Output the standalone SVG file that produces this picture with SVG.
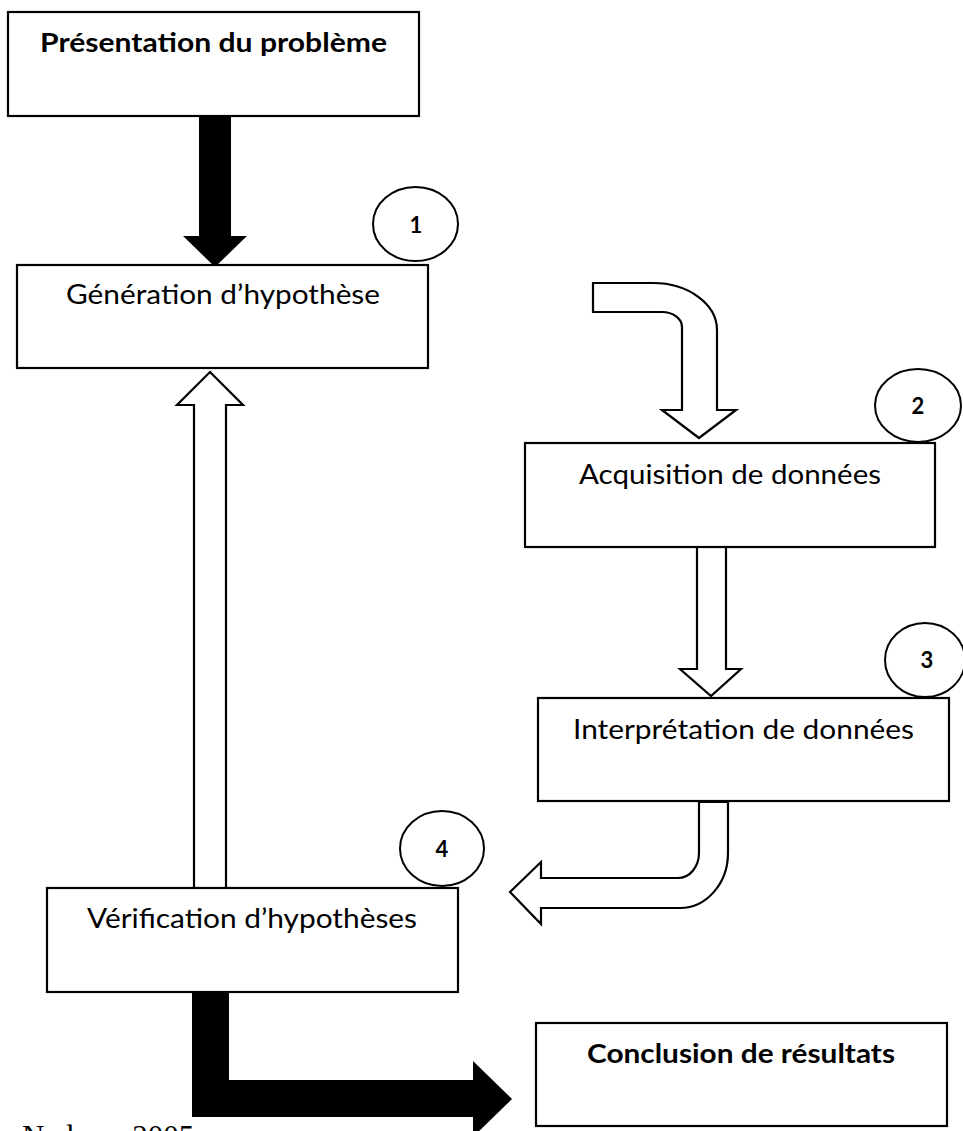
<svg xmlns="http://www.w3.org/2000/svg" width="963" height="1131" viewBox="0 0 963 1131">
  <style>
    .box { fill: #ffffff; stroke: #000000; stroke-width: 2.2; }
    .tag { fill: #ffffff; stroke: #000000; stroke-width: 2; }
    .lbl { font-family: Lato, "Liberation Sans", sans-serif; font-size: 26px; fill: #000000; text-anchor: middle; }
    .bold { font-weight: bold; }
    .num { font-family: Lato, "Liberation Sans", sans-serif; font-size: 22px; font-weight: bold; fill: #000000; text-anchor: middle; }
    .hollow { fill: #ffffff; stroke: #000000; stroke-width: 2.2; stroke-linejoin: miter; }
    .solid { fill: #000000; stroke: none; }
    .cite { font-family: "Liberation Serif", serif; font-size: 31px; fill: #000000; }
  </style>

  <!-- connectors -->
  <g id="connectors">
    <!-- problem statement down to hypothesis generation -->
    <polygon class="solid" points="199,116 231,116 231,236 247,236 215,267 183,236 199,236"/>
    <!-- bent arrow into data acquisition -->
    <path class="hollow" d="M593,283 H653 A64,47 0 0 1 717,330 V410 H736 L699,438 L662,410 H682 V327 A20,15 0 0 0 662,312 H593 Z"/>
    <!-- acquisition to interpretation -->
    <polygon class="hollow" points="697,547 697,669 680,669 711,696 741,669 726,669 726,547"/>
    <!-- interpretation back towards verification -->
    <path class="hollow" d="M699,802 V853 A21,25 0 0 1 678,878 H541 V862 L510,892 L541,924 V908 H680 A48,55 0 0 0 728,853 V802 Z"/>
    <!-- verification back up to hypothesis generation -->
    <polygon class="hollow" points="210,372 243,405 226,405 226,889 194,889 194,405 177,405"/>
    <!-- verification on to conclusion -->
    <path class="solid" d="M192,991 H229 V1080 H473 V1061 L512,1099 L473,1137 V1117 H192 Z"/>
  </g>

  <g id="node-presentation">
    <rect class="box" x="8" y="12" width="411" height="104"/>
    <text class="lbl bold" x="213.5" y="52" textLength="347" lengthAdjust="spacingAndGlyphs">Présentation du problème</text>
  </g>

  <g id="node-generation">
    <rect class="box" x="17" y="265" width="411" height="103"/>
    <text class="lbl" x="223" y="304" textLength="314" lengthAdjust="spacingAndGlyphs">Génération d’hypothèse</text>
  </g>

  <g id="step-1">
    <ellipse class="tag" cx="415.5" cy="224" rx="42.5" ry="37"/>
    <text class="num" x="416" y="233">1</text>
  </g>

  <g id="node-acquisition">
    <rect class="box" x="525" y="443" width="410" height="104"/>
    <text class="lbl" x="730" y="484" textLength="302" lengthAdjust="spacingAndGlyphs">Acquisition de données</text>
  </g>

  <g id="step-2">
    <ellipse class="tag" cx="918" cy="405.5" rx="43" ry="36.5"/>
    <text class="num" x="918" y="414">2</text>
  </g>

  <g id="node-interpretation">
    <rect class="box" x="538" y="698" width="411" height="103"/>
    <text class="lbl" x="743.5" y="739" textLength="341" lengthAdjust="spacingAndGlyphs">Interprétation de données</text>
  </g>

  <g id="step-3">
    <ellipse class="tag" cx="925" cy="660" rx="40" ry="37"/>
    <text class="num" x="927" y="668">3</text>
  </g>

  <g id="node-verification">
    <rect class="box" x="47" y="888" width="411" height="104"/>
    <text class="lbl" x="252" y="928" textLength="330" lengthAdjust="spacingAndGlyphs">Vérification d’hypothèses</text>
  </g>

  <g id="step-4">
    <ellipse class="tag" cx="442" cy="848.5" rx="42" ry="37.5"/>
    <text class="num" x="442" y="857">4</text>
  </g>

  <g id="node-conclusion">
    <rect class="box" x="536" y="1023" width="411" height="103"/>
    <text class="lbl bold" x="741" y="1063" textLength="308" lengthAdjust="spacingAndGlyphs">Conclusion de résultats</text>
  </g>

  <!-- source line, running off the bottom edge -->
  <text class="cite" x="22" y="1147">Nadeau, 2005</text>
</svg>
